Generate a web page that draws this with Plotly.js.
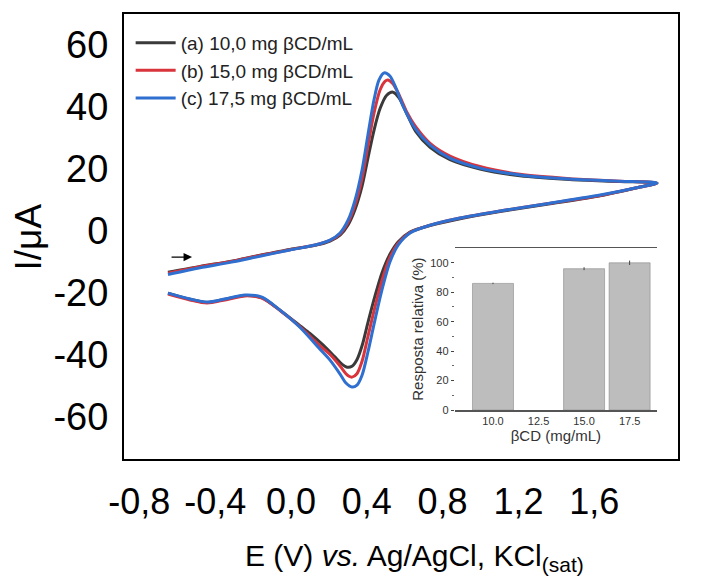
<!DOCTYPE html>
<html>
<head>
<meta charset="utf-8">
<script src="https://cdn.plot.ly/plotly-3.0.1.min.js"></script>
<style>
  html, body { margin: 0; padding: 0; background: #ffffff; }
  #chart { width: 707px; height: 576px; }
</style>
</head>
<body>
<div id="chart"></div>
<script>
// Cyclic voltammograms: potential E (V) and current I (µA), forward scan then reverse scan.
const seriesNames = ['(a) 10,0 mg βCD/mL', '(b) 15,0 mg βCD/mL', '(c) 17,5 mg βCD/mL'];
const seriesColors = ['#3a3a3a', '#d9343c', '#2f6fcf'];

const eA = [-0.649,-0.480,-0.322,-0.164,-0.005,0.127,0.206,0.259,0.301,0.338,0.375,0.406,0.438,0.470,0.505,0.538,0.570,0.610,0.660,0.734,0.839,0.997,1.208,1.472,1.736,1.931,
            1.842,1.631,1.367,1.103,0.892,0.734,0.628,0.565,0.522,0.480,0.443,0.406,0.375,0.348,0.322,0.296,0.270,0.230,0.170,0.100,0.047,-0.058,-0.153,-0.243,-0.348,-0.443,-0.533,-0.649];
const iA = [-13.3,-11.4,-9.8,-7.8,-5.9,-4.6,-3.2,-1.3,2.0,7.0,14.5,23.5,32.5,39.5,43.8,44.8,43.0,38.0,32.0,27.0,23.0,20.0,17.8,16.6,16.0,15.5,
            14.2,11.4,8.8,6.3,4.0,1.8,-0.3,-3.5,-7.5,-13.5,-21.0,-29.5,-37.0,-41.5,-43.6,-43.9,-43.0,-40.5,-36.8,-33.0,-30.5,-25.5,-21.5,-20.8,-22.0,-23.0,-22.0,-20.0];

const eB = [-0.649,-0.480,-0.322,-0.164,-0.005,0.127,0.206,0.259,0.301,0.338,0.375,0.406,0.438,0.470,0.496,0.512,0.538,0.570,0.610,0.654,0.734,0.839,0.997,1.208,1.472,1.736,1.931,
            1.842,1.631,1.367,1.103,0.892,0.734,0.628,0.565,0.522,0.480,0.443,0.406,0.375,0.348,0.322,0.306,0.290,0.259,0.206,0.153,0.047,-0.058,-0.153,-0.243,-0.348,-0.443,-0.533,-0.649];
const iB = [-13.6,-11.5,-9.9,-7.9,-6.0,-4.5,-3.0,-0.9,2.8,8.5,17.0,27.5,38.0,45.5,48.3,48.7,47.5,44.0,38.5,34.0,28.3,24.2,20.8,18.3,16.9,16.1,15.5,
            14.2,11.5,9.0,6.5,4.2,1.9,-0.5,-4.0,-8.5,-16.0,-24.5,-34.0,-42.0,-46.0,-47.1,-46.8,-46.0,-43.5,-39.8,-37.0,-30.8,-25.6,-21.6,-20.9,-22.2,-23.2,-22.2,-20.3];

const eC = [-0.649,-0.480,-0.322,-0.164,-0.005,0.127,0.206,0.259,0.301,0.338,0.375,0.406,0.438,0.464,0.491,0.522,0.554,0.596,0.654,0.734,0.839,0.997,1.208,1.472,1.736,1.931,
            1.842,1.631,1.367,1.103,0.892,0.734,0.628,0.565,0.522,0.480,0.443,0.406,0.375,0.348,0.322,0.290,0.259,0.206,0.153,0.047,-0.058,-0.153,-0.243,-0.348,-0.443,-0.533,-0.649];
const iC = [-14.0,-11.8,-10.1,-8.1,-6.1,-4.5,-2.9,-0.6,3.5,10.0,19.7,31.0,42.3,48.7,51.0,50.0,46.1,39.7,33.2,27.7,23.5,20.3,18.1,16.8,16.1,15.5,
            14.2,11.6,9.0,6.5,4.2,1.9,-0.6,-4.5,-10.0,-19.0,-28.7,-39.0,-46.5,-49.7,-50.3,-49.0,-46.1,-41.6,-38.1,-31.0,-25.5,-21.3,-20.6,-21.9,-22.9,-21.9,-20.0];

// Main axis tick labels
const eTicks = [-0.8, -0.4, 0.0, 0.4, 0.8, 1.2, 1.6];
const eTickText = ['-0,8', '-0,4', '0,0', '0,4', '0,8', '1,2', '1,6'];
const iTicks = [-60, -40, -20, 0, 20, 40, 60];
const iTickText = ['-60', '-40', '-20', '0', '20', '40', '60'];

// Inset: relative response vs βCD concentration
const conc = [10.0, 15.0, 17.5];
const resp = [86, 96, 100];
const respErr = [0.5, 1.0, 1.5];
const concTicks = [10.0, 12.5, 15.0, 17.5];
const concTickText = ['10.0', '12.5', '15.0', '17.5'];
const respTicks = [0, 20, 40, 60, 80, 100];

const FONT = 'Liberation Sans, Arial, Helvetica, sans-serif';

const cvData = [[eA, iA], [eB, iB], [eC, iC]];
const traces = cvData.map(([e, i], k) => ({
  type: 'scatter', mode: 'lines',
  x: e, y: i, name: seriesNames[k],
  line: { color: seriesColors[k], width: 3, shape: 'spline', smoothing: 0.8 },
  xaxis: 'x', yaxis: 'y'
}));

traces.push({
  type: 'bar',
  x: conc, y: resp,
  width: 2.25,
  marker: { color: '#bdbdbd', line: { color: '#8a8a8a', width: 0.6 } },
  error_y: { type: 'data', array: respErr, visible: true, color: '#444', thickness: 1, width: 0 },
  xaxis: 'x2', yaxis: 'y2',
  showlegend: false, hoverinfo: 'skip'
});

const layout = {
  width: 707, height: 576,
  margin: { l: 124, r: 29, t: 14, b: 117 },
  paper_bgcolor: '#ffffff', plot_bgcolor: '#ffffff',
  font: { family: FONT, color: '#000' },
  showlegend: true,
  legend: {
    x: 0.012, y: 0.978, xanchor: 'left', yanchor: 'top',
    bgcolor: 'rgba(0,0,0,0)', borderwidth: 0,
    font: { family: FONT, size: 19, color: '#222' },
    itemwidth: 40,
    tracegroupgap: 0
  },
  xaxis: {
    range: [-0.881, 2.042],
    tickvals: eTicks, ticktext: eTickText,
    ticks: '', showgrid: false, zeroline: false,
    showline: true, mirror: true, linecolor: '#000', linewidth: 2,
    tickfont: { family: FONT, size: 36, color: '#000' },
    ticklabelstandoff: 10
  },
  yaxis: {
    range: [-73.5, 70],
    tickvals: iTicks, ticktext: iTickText,
    ticks: '', showgrid: false, zeroline: false,
    showline: true, mirror: true, linecolor: '#000', linewidth: 2,
    tickfont: { family: FONT, size: 38, color: '#000' },
    ticklabelstandoff: 6
  },
  xaxis2: {
    domain: [0.597, 0.962], anchor: 'y2',
    range: [7.9, 19.0],
    tickvals: concTicks, ticktext: concTickText,
    ticks: '', showgrid: false, zeroline: false,
    showline: true, mirror: true, linecolor: '#555', linewidth: 1.5,
    tickfont: { family: FONT, size: 11, color: '#333' },
    title: { text: 'βCD (mg/mL)', font: { family: FONT, size: 15, color: '#333' }, standoff: 0 }
  },
  yaxis2: {
    domain: [0.110, 0.474], anchor: 'x2',
    range: [0, 110],
    tickvals: respTicks,
    ticks: 'outside', ticklen: 3, tickcolor: '#444', tickwidth: 1,
    minor: { tickvals: [10, 30, 50, 70, 90], ticks: 'outside', ticklen: 1.5, tickcolor: '#666' },
    showgrid: false, zeroline: false, showline: false,
    tickfont: { family: FONT, size: 11, color: '#333' },
    title: { text: 'Resposta relativa (%)', font: { family: FONT, size: 15, color: '#333' }, standoff: 2 }
  },
  annotations: [
    {
      // scan direction marker
      x: -0.522, y: -8.4, ax: -0.638, ay: -8.4,
      xref: 'x', yref: 'y', axref: 'x', ayref: 'y',
      text: '', showarrow: true, arrowhead: 2, arrowsize: 1.3, arrowwidth: 1.3, arrowcolor: '#000'
    },
    {
      // current axis title
      text: 'I/μA', textangle: -90,
      xref: 'paper', yref: 'paper', x: -0.1715, y: 0.5,
      xanchor: 'center', yanchor: 'middle', showarrow: false,
      font: { family: FONT, size: 37, color: '#000' }
    },
    {
      // potential axis title
      text: 'E (V) <i>vs.</i> Ag/AgCl, KCl<sub>(sat)</sub>',
      xref: 'paper', yref: 'paper', x: 0.525, y: -0.222,
      xanchor: 'center', yanchor: 'middle', showarrow: false,
      font: { family: FONT, size: 30, color: '#000' }
    }
  ]
};

Plotly.newPlot('chart', traces, layout, { displayModeBar: false, staticPlot: true });
</script>
</body>
</html>
